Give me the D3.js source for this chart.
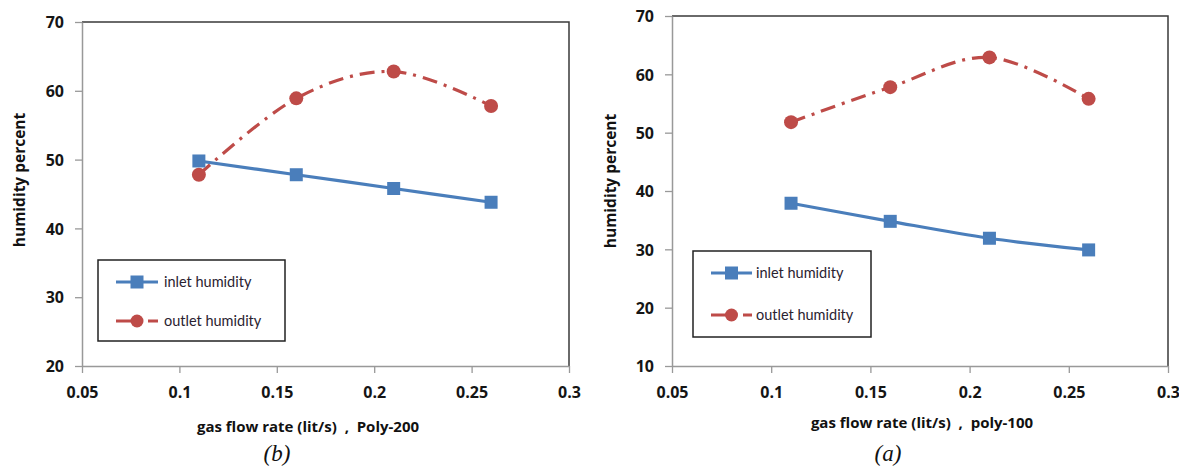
<!DOCTYPE html>
<html><head><meta charset="utf-8">
<script src="https://cdn.jsdelivr.net/npm/d3@7"></script>
<style>
html,body{margin:0;padding:0;background:#fff;}
svg{display:block;}
</style></head>
<body>
<svg id="chart" width="1179" height="467"></svg>
<script>
// ---- data ----
const flowRates = [0.11, 0.16, 0.21, 0.26];
const inletPoly200 = [49.8, 47.8, 45.8, 43.8];
const outletPoly200 = [47.8, 58.9, 62.8, 57.8];
const inletPoly100 = [37.9, 34.8, 31.9, 29.9];
const outletPoly100 = [51.8, 57.8, 62.9, 55.8];
const xTicks = [0.05, 0.1, 0.15, 0.2, 0.25, 0.3];
const yTicksPoly200 = [20, 30, 40, 50, 60, 70];
const yTicksPoly100 = [10, 20, 30, 40, 50, 60, 70];
const seriesNames = ["inlet humidity", "outlet humidity"];
const yTitle = "humidity percent";
const xTitlePoly200 = "gas flow rate (lit/s)  ,  Poly-200";
const xTitlePoly100 = "gas flow rate (lit/s)  ,  poly-100";

const svg = d3.select("#chart");
const BLUE = "#4a7ebb", RED = "#be4b48";
const DASH = "15,7,3,7";
const BOLDFONT = "'Open Sans', sans-serif";
const LEGFONT = "Lato, 'Open Sans', sans-serif";

function panel(o) {
  const g = svg.append("g");
  const x = d3.scaleLinear().domain([0.05, 0.3]).range([o.x0, o.x1]);
  const y = d3.scaleLinear().domain(o.yDomain).range([o.y1, o.y0]);

  g.append("path").attr("d", `M${o.x0},${o.y0}H${o.x1}V${o.y1}`)
    .attr("fill", "none").attr("stroke", "#3a3a3a").attr("stroke-width", 1.5);

  const xAxis = g.append("g").attr("transform", `translate(0,${o.y1})`)
    .call(d3.axisBottom(x).tickValues(xTicks).tickFormat(d => String(d)).tickSize(7).tickSizeOuter(0));
  const yAxis = g.append("g").attr("transform", `translate(${o.x0},0)`)
    .call(d3.axisLeft(y).tickValues(o.yTicks).tickFormat(d => String(d)).tickSize(7).tickSizeOuter(0));
  [xAxis, yAxis].forEach(a => {
    a.select(".domain").attr("stroke", "#999").attr("stroke-width", 1.5);
    a.selectAll(".tick line").attr("stroke", "#999").attr("stroke-width", 1.3);
    a.selectAll(".tick text").attr("fill", "#151515")
      .style("font-family", BOLDFONT).style("font-size", "16px").style("font-weight", "700");
  });
  xAxis.selectAll(".tick text").attr("dy", "0").attr("y", 32);
  yAxis.selectAll(".tick text").attr("x", -18).attr("dy", "0.36em");

  const line = d3.line().x((d, i) => x(flowRates[i])).y(d => y(d))
    .curve(d3.curveCardinal.tension(0));

  g.append("path").datum(o.outlet).attr("d", line).attr("fill", "none")
    .attr("stroke", RED).attr("stroke-width", 3.2).attr("stroke-dasharray", DASH);
  g.append("path").datum(o.inlet).attr("d", line).attr("fill", "none")
    .attr("stroke", BLUE).attr("stroke-width", 3.2);

  g.selectAll(".sq").data(o.inlet).enter().append("rect")
    .attr("x", (d, i) => x(flowRates[i]) - 6.5).attr("y", d => y(d) - 6.5)
    .attr("width", 13).attr("height", 13).attr("fill", BLUE);
  g.selectAll(".ci").data(o.outlet).enter().append("circle")
    .attr("cx", (d, i) => x(flowRates[i])).attr("cy", d => y(d)).attr("r", 7).attr("fill", RED);

  // legend
  const L = o.legend;
  g.append("rect").attr("x", L.x).attr("y", L.y).attr("width", L.w).attr("height", L.h)
    .attr("fill", "#fff").attr("stroke", "#222").attr("stroke-width", 1.5);
  const r1 = L.y + L.row1, r2 = L.y + L.row2;
  g.append("line").attr("x1", L.lx0).attr("x2", L.lx1).attr("y1", r1).attr("y2", r1)
    .attr("stroke", BLUE).attr("stroke-width", 3.2);
  g.append("rect").attr("x", (L.lx0 + L.lx1) / 2 - 6.5).attr("y", r1 - 6.5)
    .attr("width", 13).attr("height", 13).attr("fill", BLUE);
  g.append("line").attr("x1", L.lx0).attr("x2", L.lx1).attr("y1", r2).attr("y2", r2)
    .attr("stroke", RED).attr("stroke-width", 3.2).attr("stroke-dasharray", DASH);
  g.append("circle").attr("cx", (L.lx0 + L.lx1) / 2).attr("cy", r2).attr("r", 6.5).attr("fill", RED);
  [r1, r2].forEach((r, i) => {
    g.append("text").attr("x", L.tx).attr("y", r + 5)
      .style("font-family", LEGFONT).style("font-size", "14.5px")
      .attr("fill", "#2a2230").text(seriesNames[i]);
  });

  // titles
  g.append("text").attr("transform", `translate(${o.yTitleX},${o.yTitleY}) rotate(-90)`)
    .attr("text-anchor", "middle").style("font-family", BOLDFONT).style("font-weight", "700")
    .style("font-size", "15.5px").attr("fill", "#111").text(yTitle);
  g.append("text").attr("x", o.xTitleX).attr("y", o.xTitleY).attr("text-anchor", "middle")
    .style("font-family", BOLDFONT).style("font-weight", "700").style("font-size", "15px")
    .attr("fill", "#111").style("white-space", "pre").text(o.xTitle);
  g.append("text").attr("x", o.capX).attr("y", 461).attr("text-anchor", "middle")
    .style("font-family", "'Liberation Serif', 'DejaVu Serif', serif").style("font-style", "italic")
    .style("font-size", "23px").attr("fill", "#111").text(o.caption);
}

panel({
  x0: 82, x1: 569, y0: 22, y1: 366, yDomain: [20, 70], yTicks: yTicksPoly200,
  inlet: inletPoly200, outlet: outletPoly200,
  legend: {x: 98, y: 260, w: 187, h: 81, row1: 22, row2: 61, lx0: 116, lx1: 158, tx: 164},
  yTitleX: 25, yTitleY: 180, xTitle: xTitlePoly200, xTitleX: 308, xTitleY: 432,
  capX: 277, caption: "(b)"
});
panel({
  x0: 672, x1: 1168, y0: 16, y1: 366, yDomain: [10, 70], yTicks: yTicksPoly100,
  inlet: inletPoly100, outlet: outletPoly100,
  legend: {x: 693, y: 251, w: 178, h: 86, row1: 22, row2: 64, lx0: 711, lx1: 752, tx: 756},
  yTitleX: 616, yTitleY: 181, xTitle: xTitlePoly100, xTitleX: 922, xTitleY: 428,
  capX: 888, caption: "(a)"
});
</script>
</body></html>
